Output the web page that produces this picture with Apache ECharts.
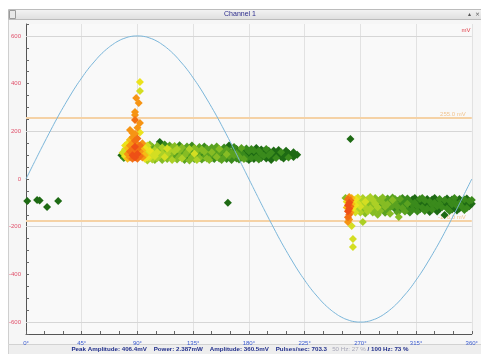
<!DOCTYPE html>
<html><head><meta charset="utf-8">
<script src="https://cdn.jsdelivr.net/npm/echarts@6/dist/echarts.min.js"></script>
<style>html,body{margin:0;padding:0;background:#fff}#c{width:481px;height:354px}</style>
</head><body><div id="c"></div>
<script>
// Reference sine waveform (degrees, mV)
const sineDeg = [0,5,10,15,20,25,30,35,40,45,50,55,60,65,70,75,80,85,90,95,100,105,110,115,120,125,130,135,140,145,150,155,160,165,170,175,180,185,190,195,200,205,210,215,220,225,230,235,240,245,250,255,260,265,270,275,280,285,290,295,300,305,310,315,320,325,330,335,340,345,350,355,360];
const sineVal = [0,52,104,155,205,254,300,344,386,424,460,491,520,544,564,580,591,598,600,598,591,580,564,544,520,491,460,424,386,344,300,254,205,155,104,52,0,-52,-104,-155,-205,-254,-300,-344,-386,-424,-460,-491,-520,-544,-564,-580,-591,-598,-600,-598,-591,-580,-564,-544,-520,-491,-460,-424,-386,-344,-300,-254,-205,-155,-104,-52,0];

// Pulses: [phase deg, amplitude mV, density]
const posHead = [
 [77,100,0],[79,88,1],[78,110,5],
 [80,95,6],[80,125,5],[80,140,6],
 [82,85,7],[82,105,8],[82,130,7],[82,150,6],
 [84,90,8],[84,115,9],[84,140,8],[84,165,7],[84,206,8],
 [86,85,9],[86,100,10],[86,125,9],[86,150,8],[86,175,8],[86,193,8],
 [88,90,10],[88,110,9],[88,135,10],[88,160,9],[88,190,8],[88,247,9],[88,268,8],[88,281,8],
 [89,340,8],
 [90,85,9],[90,105,10],[90,125,9],[90,145,8],[90,170,9],[90,215,8],
 [91,319,8],
 [92,95,9],[92,115,8],[92,140,9],[92,195,6],[92,235,8],[92,369,5],[92,407,6],
 [94,90,8],[94,120,7],[94,150,8],
 [96,100,7],[96,130,6],[96,85,6],
 [98,110,5],[98,140,5],[98,90,6]
];
const posBand = [
 [98,78,4],[98,132,4],[100,90,5],[100,118,6],[100,145,3],[102,82,4],[102,110,5],[102,135,2],[103,128,0],
 [104,95,5],[104,122,4],[104,80,3],[106,88,4],[106,112,5],[106,138,3],[108,100,4],[108,128,3],[108,155,0],
 [110,80,3],[110,108,4],[110,132,4],[112,92,5],[112,118,3],[112,145,1],[114,84,3],[114,104,4],[114,128,5],
 [116,96,3],[116,122,4],[116,140,2],[118,80,4],[118,110,3],[118,132,3],[120,90,2],[120,116,4],[120,138,3],
 [122,82,3],[122,104,2],[122,126,4],[124,94,3],[124,120,3],[124,142,1],[126,86,4],[126,110,2],[126,132,3],
 [128,98,3],[128,124,2],[128,80,2],[130,88,1],[130,112,3],[130,136,2],[132,100,2],[132,126,4],[132,78,3],
 [134,90,3],[134,116,2],[134,140,1],[136,84,2],[136,106,5],[136,130,3],[138,96,2],[138,120,3],[138,80,4],
 [140,88,3],[140,112,2],[140,134,2],[142,100,1],[142,124,3],[142,82,2],[144,90,2],[144,114,3],[144,136,1],
 [146,86,3],[146,108,2],[146,128,2],[148,96,2],[148,120,1],[148,80,3],[150,88,1],[150,112,3],[150,132,2],
 [152,100,2],[152,122,2],[152,84,1],[154,92,3],[154,114,1],[154,136,2],[156,86,2],[156,108,2],[156,126,3],
 [158,98,1],[158,118,2],[158,80,2],[160,90,2],[160,112,1],[160,132,1],[162,84,1],[162,104,3],[162,124,2],
 [164,96,2],[164,118,1],[164,140,0],[166,88,1],[166,110,2],[166,80,1],[168,100,2],[168,122,1],[168,134,1],
 [170,86,1],[170,106,2],[170,126,0],[172,94,2],[172,116,1],[172,82,1],[174,90,0],[174,110,1],[174,130,2],
 [176,98,1],[176,120,0],[176,84,2],[178,86,1],[178,106,0],[178,128,1],[180,94,0],[180,116,1],[180,80,0],
 [182,88,1],[182,108,0],[182,126,1],[184,100,0],[184,120,1],[184,84,0],[186,90,1],[186,112,0],[186,130,0],
 [188,96,0],[188,118,1],[188,82,1],[190,88,0],[190,106,1],[190,124,0],[192,98,1],[192,116,0],
 [194,86,0],[194,108,0],[194,126,1],[196,100,1],[196,118,0],[198,90,0],[198,110,1],[198,80,0],
 [200,96,0],[200,120,0],[202,88,1],[202,108,0],[204,100,0],[204,122,0],[206,92,0],[206,112,1],
 [208,86,0],[208,104,0],[210,98,0],[210,118,0],[212,90,1],[212,108,0],[214,100,0],[216,92,0],[216,112,0],[219,102,0]
];
const negHead = [
 [258,-80,3],[259,-95,6],[259,-120,7],
 [260,-85,9],[260,-110,10],[260,-135,10],[260,-160,9],[260,-180,8],
 [261,-75,8],[261,-100,10],[261,-125,10],[261,-150,9],[261,-170,8],
 [262,-90,9],[262,-115,9],[262,-140,8],
 [263,-80,7],[263,-105,7],[263,-130,6],[263,-197,5],
 [264,-95,6],[264,-120,6],[264,-252,5],[264,-285,5],
 [266,-85,6],[266,-110,6],[266,-140,5]
];
const negBand = [
 [268,-78,5],[268,-102,5],[268,-128,4],[270,-90,4],[270,-115,5],[270,-140,4],
 [272,-80,4],[272,-105,4],[272,-180,4],[272,-130,3],[274,-95,5],[274,-120,4],[274,-145,3],
 [276,-85,4],[276,-110,3],[276,-135,4],[278,-98,3],[278,-124,4],[278,-76,4],
 [280,-88,4],[280,-112,3],[280,-140,3],[282,-80,3],[282,-104,4],[282,-128,3],
 [284,-94,3],[284,-118,4],[284,-150,3],[286,-86,3],[286,-110,2],[286,-134,3],
 [288,-100,3],[288,-124,2],[288,-78,3],[290,-90,2],[290,-116,3],[290,-142,2],
 [292,-82,2],[292,-106,3],[292,-130,2],[294,-96,2],[294,-120,2],[294,-146,3],
 [296,-88,3],[296,-112,2],[296,-78,2],[298,-100,2],[298,-126,1],[298,-84,2],
 [300,-92,1],[300,-116,2],[300,-140,2],[301,-159,3],[302,-84,2],[302,-108,1],[302,-130,1],
 [304,-98,1],[304,-122,2],[304,-80,1],[306,-90,1],[306,-114,1],[306,-136,2],
 [308,-104,2],[308,-126,1],[308,-82,1],[310,-94,1],[310,-118,0],[310,-140,1],
 [312,-86,0],[312,-108,1],[312,-128,1],[314,-100,1],[314,-124,0],[314,-80,0],
 [316,-92,0],[316,-114,1],[316,-136,1],[318,-84,1],[318,-106,0],[318,-128,0],
 [320,-98,0],[320,-120,1],[320,-80,1],[322,-90,1],[322,-112,0],[322,-134,1],
 [324,-102,0],[324,-124,1],[324,-84,0],[326,-94,1],[326,-116,0],[326,-138,0],
 [328,-86,0],[328,-108,1],[328,-128,1],[330,-100,1],[330,-122,0],[330,-80,0],
 [332,-92,0],[332,-114,1],[332,-136,0],[334,-104,1],[334,-126,0],[334,-84,1],
 [336,-96,0],[336,-118,1],[338,-151,0],[338,-88,1],[338,-110,0],
 [340,-100,0],[340,-124,1],[340,-82,0],[342,-92,1],[342,-114,0],[342,-134,1],
 [344,-86,0],[344,-106,1],[344,-128,0],[346,-98,1],[346,-120,0],[346,-80,1],
 [348,-90,0],[348,-112,1],[348,-132,0],[350,-102,1],[350,-124,0],[350,-84,0],
 [352,-94,0],[352,-116,1],[354,-86,1],[354,-108,0],[354,-130,1],
 [356,-100,0],[356,-122,1],[356,-82,0],[358,-92,1],[358,-114,0],[360,-104,0],[360,-88,1]
];
const strayPoints = [[1,-92,0],[9,-88,0],[11,-90,0],[17,-117,0],[26,-92,0],[163,-100,0],[262,168,0]];

// Thresholds and gridlines (mV)
const thresholds = [255, -176];
const thresholdLabels = ['255.0 mV', '-176.0 mV'];
const gridLevels = [600, 200, -200, -600];
const xTickLabels = ['0°','45°','90°','135°','180°','225°','270°','315°','360°'];
const densityColors = ['#1e6a14','#3a8a1c','#5aa220','#86bc24','#acd026','#d4de22','#ece21c','#f6bb16','#f69414','#f27014','#ee5016'];

const pulses = posBand.concat(negBand, strayPoints, posHead, negHead).slice().sort((a,b)=>a[2]-b[2]);
const sineData = sineDeg.map((d,i)=>[d, sineVal[i]]);

const chart = echarts.init(document.getElementById('c'), null, {renderer:'canvas'});
const markData = gridLevels.map(v=>({yAxis:v, lineStyle:{color:'#d6d6d6', width:1, type:'solid'}, label:{show:false}}))
 .concat(thresholds.map((v,i)=>({yAxis:v, lineStyle:{color:'#f5d2a6', width:2, type:'solid'},
   label:{show:true, position:'insideEndTop', formatter:thresholdLabels[i], color:'#f2c48e', fontSize:6, distance:[6,1]}})));

chart.setOption({
 animation:false,
 backgroundColor:'#ffffff',
 graphic:[
  {type:'rect', shape:{x:8.5,y:19.5,width:480,height:325}, style:{fill:'#f6f6f6', stroke:'#cfcfcf'}, z:-10},
  {type:'rect', shape:{x:8.5,y:344.5,width:480,height:10}, style:{fill:'#eeeeee', stroke:'#d2d2d2'}, z:-10},
  {type:'rect', shape:{x:8.5,y:9.5,width:480,height:10}, style:{fill:{type:'linear',x:0,y:0,x2:0,y2:1,colorStops:[{offset:0,color:'#f4f4f4'},{offset:1,color:'#dedede'}]}, stroke:'#bcbcbc'}, z:-5},
  {type:'rect', shape:{x:9.5,y:10.5,width:6,height:8}, style:{fill:'#e8e8e8', stroke:'#9a9a9a'}, z:-4},
  {type:'text', x:240, y:14.5, style:{text:'Channel 1', fill:'#2b2b8c', fontSize:7, fontFamily:'Liberation Sans', align:'center', verticalAlign:'middle'}},
  {type:'text', x:474, y:14.5, style:{text:'▴  ×', fill:'#555', fontSize:6, fontFamily:'DejaVu Sans', align:'center', verticalAlign:'middle'}},
  {type:'text', x:466, y:30, style:{text:'mV', fill:'#e0404a', fontSize:6, fontFamily:'Liberation Sans', align:'center', verticalAlign:'middle'}},
  {type:'text', x:240, y:349.5, style:{
    text:'{a|Peak Amplitude: 406.4mV    Power: 2.387mW    Amplitude: 360.5mV    Pulses/sec: 703.3   }{b|50 Hz: 27 %}{a| / 100 Hz: 73 %}',
    rich:{a:{fill:'#1f2d8a', fontSize:6.2, fontWeight:'bold', fontFamily:'Liberation Sans'}, b:{fill:'#a8a8b8', fontSize:6.2, fontFamily:'Liberation Sans'}},
    align:'center', verticalAlign:'middle'}}
 ],
 grid:{left:26, right:-1, top:24, bottom:20, show:true, backgroundColor:'#f9f9f9', borderWidth:0},
 visualMap:{show:false, type:'continuous', dimension:2, min:0, max:10, seriesIndex:0, inRange:{color:densityColors}},
 xAxis:[
  {type:'value', min:0, max:360, interval:15, axisLine:{show:true, onZero:false, lineStyle:{color:'#555', width:1}},
   axisTick:{show:true, inside:true, length:3, lineStyle:{color:'#666'}}, axisLabel:{show:false}, splitLine:{show:false}},
  {type:'value', min:0, max:360, interval:45, position:'bottom', axisLine:{show:false, onZero:false}, axisTick:{show:false},
   axisLabel:{show:true, color:'#3a5bd0', fontSize:6, margin:6, fontFamily:'Liberation Sans', formatter:(v)=>xTickLabels[v/45]},
   splitLine:{show:true, lineStyle:{color:'#e2e2e2', width:1}}}
 ],
 yAxis:{type:'value', min:-650, max:650, interval:50, axisLine:{show:true, onZero:false, lineStyle:{color:'#555', width:1}},
  axisTick:{show:true, inside:true, length:3, lineStyle:{color:'#666'}},
  axisLabel:{color:'#e0506a', fontSize:6, margin:5, fontFamily:'Liberation Sans', formatter:(v)=> (v%200===0 ? String(v) : '')},
  splitLine:{show:false}},
 series:[
  {type:'scatter', xAxisIndex:0, data:pulses, symbol:'diamond', symbolSize:8, itemStyle:{opacity:1}, z:3},
  {type:'line', xAxisIndex:0, data:sineData, smooth:true, showSymbol:false, symbol:'none', lineStyle:{color:'#7ab6da', width:1}, z:4,
   markLine:{silent:true, symbol:'none', data:markData, z:1}}
 ]
});
</script></body></html>
